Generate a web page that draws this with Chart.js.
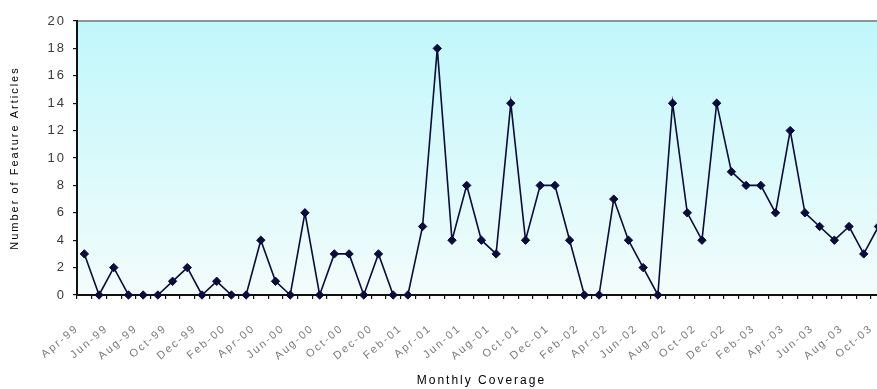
<!DOCTYPE html>
<html>
<head>
<meta charset="utf-8">
<script src="https://cdn.jsdelivr.net/npm/chart.js@4.4.1/dist/chart.umd.min.js"></script>
<style>
  html, body { margin: 0; padding: 0; background: #ffffff; overflow: hidden; }
  #wrap { position: relative; width: 891px; height: 389px; }
  #chart { display: block; }
</style>
</head>
<body>
<div id="wrap"><canvas id="chart" width="891" height="389"></canvas></div>
<script>
// Monthly coverage, Apr-99 through Oct-03
const months = [
  'Apr-99','May-99','Jun-99','Jul-99','Aug-99','Sep-99','Oct-99','Nov-99','Dec-99',
  'Jan-00','Feb-00','Mar-00','Apr-00','May-00','Jun-00','Jul-00','Aug-00','Sep-00','Oct-00','Nov-00','Dec-00',
  'Jan-01','Feb-01','Mar-01','Apr-01','May-01','Jun-01','Jul-01','Aug-01','Sep-01','Oct-01','Nov-01','Dec-01',
  'Jan-02','Feb-02','Mar-02','Apr-02','May-02','Jun-02','Jul-02','Aug-02','Sep-02','Oct-02','Nov-02','Dec-02',
  'Jan-03','Feb-03','Mar-03','Apr-03','May-03','Jun-03','Jul-03','Aug-03','Sep-03','Oct-03'
];

// Number of feature articles per month
const articles = [
  3, 0, 2, 0, 0, 0, 1, 2, 0,
  1, 0, 0, 4, 1, 0, 6, 0, 3, 3, 0, 3,
  0, 0, 5, 18, 4, 8, 4, 3, 14, 4, 8, 8,
  4, 0, 0, 7, 4, 2, 0, 14, 6, 4, 14, 9,
  8, 8, 6, 12, 6, 5, 4, 5, 3, 5
];

// Value axis ticks
const yTicks = [0, 2, 4, 6, 8, 10, 12, 14, 16, 18, 20];

const FONT = "'Liberation Sans', Arial, sans-serif";
const SPACING = '2px';

// Wide, Excel-like lettering for all canvas text
const letterSpacingPlugin = {
  id: 'letterSpacing',
  beforeLayout(chart) { chart.ctx.letterSpacing = SPACING; },
  beforeDraw(chart) { chart.ctx.letterSpacing = SPACING; }
};

// Plot-area fill (cyan fading to near white) and its grey frame
const plotAreaPlugin = {
  id: 'plotArea',
  beforeDraw(chart) {
    const { ctx, chartArea: a } = chart;
    const g = ctx.createLinearGradient(0, a.top, 0, a.bottom);
    g.addColorStop(0, '#c0f7fb');
    g.addColorStop(1, '#f3fcfb');
    ctx.save();
    ctx.fillStyle = g;
    ctx.fillRect(a.left, a.top, a.right - a.left, a.bottom - a.top);
    ctx.strokeStyle = '#8c9696';
    ctx.lineWidth = 2;
    ctx.strokeRect(a.left, a.top, a.right - a.left, a.bottom - a.top);
    ctx.restore();
  }
};

new Chart(document.getElementById('chart'), {
  type: 'line',
  data: {
    labels: months,
    datasets: [{
      data: articles,
      borderColor: '#0b0b3c',
      backgroundColor: '#0b0b3c',
      borderWidth: 1.6,
      tension: 0,
      pointStyle: 'rectRot',
      pointRadius: 4.2,
      pointBorderWidth: 1,
      pointBackgroundColor: '#0b0b3c',
      pointBorderColor: '#0b0b3c',
      clip: false
    }]
  },
  options: {
    responsive: false,
    maintainAspectRatio: false,
    animation: false,
    layout: { padding: { top: 21, right: 1, bottom: 0, left: 0 } },
    plugins: {
      legend: { display: false },
      title: { display: false },
      tooltip: { enabled: false }
    },
    scales: {
      x: {
        type: 'category',
        offset: true,
        afterFit(scale) {
          scale.height = 94;
          scale.paddingLeft = 0;
          scale.paddingRight = 0;
        },
        grid: {
          offset: true,
          drawOnChartArea: false,
          drawTicks: true,
          tickLength: 4,
          color: '#111111',
          lineWidth: 1.2
        },
        border: { display: true, color: '#111111', width: 2 },
        ticks: {
          autoSkip: false,
          minRotation: 40,
          maxRotation: 40,
          padding: 23,
          labelOffset: -7,
          color: '#7a7a7a',
          font: { family: FONT, size: 11 },
          callback(value, index) { return index % 2 === 0 ? months[index] : ''; }
        },
        title: {
          display: true,
          text: 'Monthly Coverage',
          color: '#000000',
          font: { family: FONT, size: 12 },
          padding: { top: 4, bottom: 1 }
        }
      },
      y: {
        min: yTicks[0],
        max: yTicks[yTicks.length - 1],
        afterFit(scale) { scale.width = 77; },
        afterBuildTicks(scale) { scale.ticks = yTicks.map(v => ({ value: v })); },
        grid: {
          drawOnChartArea: false,
          drawTicks: true,
          tickLength: 4,
          color: '#111111',
          lineWidth: 1.2
        },
        border: { display: true, color: '#111111', width: 2 },
        ticks: {
          padding: 7,
          color: '#3a3a3a',
          font: { family: FONT, size: 13 }
        },
        title: {
          display: true,
          text: 'Number of Feature Articles',
          color: '#000000',
          font: { family: FONT, size: 11 },
          padding: { top: 8, bottom: 4 }
        }
      }
    }
  },
  plugins: [letterSpacingPlugin, plotAreaPlugin]
});
</script>
</body>
</html>
